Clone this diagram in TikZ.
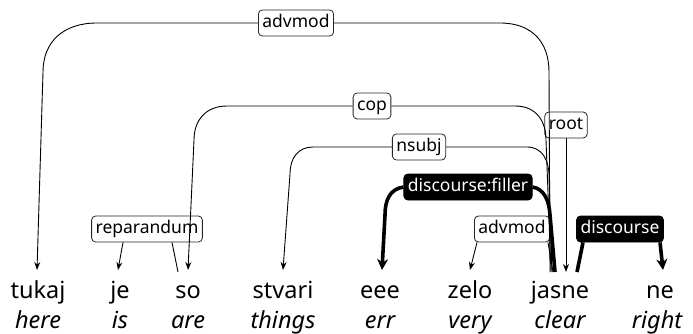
\documentclass[tikz,border=0pt]{standalone}
\usepackage{fontspec}
\setmainfont{Noto Sans}
\usetikzlibrary{arrows.meta}
\tikzset{
  word/.style={anchor=base, inner sep=0pt, font=\fontsize{23.5}{26}\selectfont},
  gloss/.style={anchor=base, inner sep=0pt, font=\fontsize{23.5}{26}\selectfont\itshape},
  lab/.style={draw=black!85, fill=white, rounded corners=4pt, line width=0.8pt,
    inner xsep=4pt, inner ysep=0pt, minimum height=26pt,
    text height=12pt, text depth=3.5pt, font=\fontsize{17.5}{19}\selectfont},
  blab/.style={lab, fill=black, draw=black, text=white},
  thin/.style={draw=black, line width=0.9pt},
  thinarr/.style={thin, -{Stealth[length=8pt,width=6pt]}},
  thick/.style={draw=black, line width=3.6pt},
  thickarr/.style={thick, -{Stealth[length=11pt,width=11pt]}}
}
\begin{document}
\begin{tikzpicture}[x=1pt,y=-1pt]
\useasboundingbox (0,0) rectangle (693,334);
% words
\node[word] (w1) at (38,298) {tukaj};
\node[word] (w2) at (120,298) {je};
\node[word] (w3) at (188,298) {so};
\node[word] (w4) at (283,298) {stvari};
\node[word] (w5) at (380,298) {eee};
\node[word] (w6) at (470,298) {zelo};
\node[word] (w7) at (560,298) {jasne};
\node[word] (w8) at (660,298) {ne};
% glosses
\node[gloss] (g1) at (38,328) {here};
\node[gloss] (g2) at (120,328) {is};
\node[gloss] (g3) at (188,328) {are};
\node[gloss] (g4) at (283,328) {things};
\node[gloss] (g5) at (380,328) {err};
\node[gloss] (g6) at (470,328) {very};
\node[gloss] (g7) at (560,328) {clear};
\node[gloss] (g8) at (657,328) {right};
% attachment points
\coordinate (t1) at (37,270);
\coordinate (t2) at (118,270);
\coordinate (t3) at (188,270);
\coordinate (t4) at (283,270);
\coordinate (t5) at (382,270);
\coordinate (t6) at (470,270);
\coordinate (t8) at (663,270);
\coordinate (jroot) at (566,272);
\coordinate (ja) at (550,272);
\coordinate (jb) at (551,272);
\coordinate (jc) at (552,272);
\coordinate (jd) at (553,272);
\coordinate (jf) at (555,272);
\coordinate (jg) at (577,272);
\coordinate (so) at (178,272);
% labels
\node[lab] (Ladv) at (296,23) {advmod};
\node[lab] (Lcop) at (372,106) {cop};
\node[lab] (Lroot) at (566,125) {root};
\node[lab] (Lnsubj) at (419,147) {nsubj};
\node[blab] (Lfill) at (468,187) {discourse:filler};
\node[lab] (Lrep) at (147,229) {reparandum};
\node[lab] (Ladv2) at (512,229) {advmod};
\node[blab] (Ldisc) at (620,229) {discourse};
% advmod (jasne -> tukaj)
\draw[thin] (ja) -- (549,72) .. controls (549,42) and (532,23) .. (500,23) -- (Ladv.east);
\draw[thinarr] (Ladv.west) -- (97,23) .. controls (63,23) and (43,42) .. (43,72) -- (t1);
% cop (jasne -> so)
\draw[thin] (jb) -- (546,140) .. controls (546,122) and (537,106) .. (515,106) -- (Lcop.east);
\draw[thinarr] (Lcop.west) -- (227,106) .. controls (206,106) and (194,120) .. (194,140) -- (t3);
% nsubj (jasne -> stvari)
\draw[thin] (jc) -- (549,176) .. controls (549,160) and (542,147) .. (527,147) -- (Lnsubj.east);
\draw[thinarr] (Lnsubj.west) -- (313,147) .. controls (298,147) and (290,158) .. (290,174) -- (t4);
% root
\draw[thinarr] (Lroot.south) -- (jroot);
% discourse:filler (jasne -> eee)
\draw[thick] (jf) -- (550,215) .. controls (549,200) and (544,189) .. (Lfill.east);
\draw[thickarr] (Lfill.west) .. controls (390,189) and (385,200) .. (385,215) -- (t5);
% reparandum (so -> je)
\draw[thin] (so) -- ([xshift=25pt]Lrep.south);
\draw[thinarr] ([xshift=-24pt]Lrep.south) -- (t2);
% advmod (jasne -> zelo)
\draw[thin] (jd) -- ([xshift=36pt]Ladv2.south);
\draw[thinarr] ([xshift=-35pt]Ladv2.south) -- (t6);
% discourse (jasne -> ne)
\draw[thick] (jg) -- ([xshift=-37pt]Ldisc.south);
\draw[thickarr] ([xshift=40pt]Ldisc.south) -- (t8);
\end{tikzpicture}
\end{document}
